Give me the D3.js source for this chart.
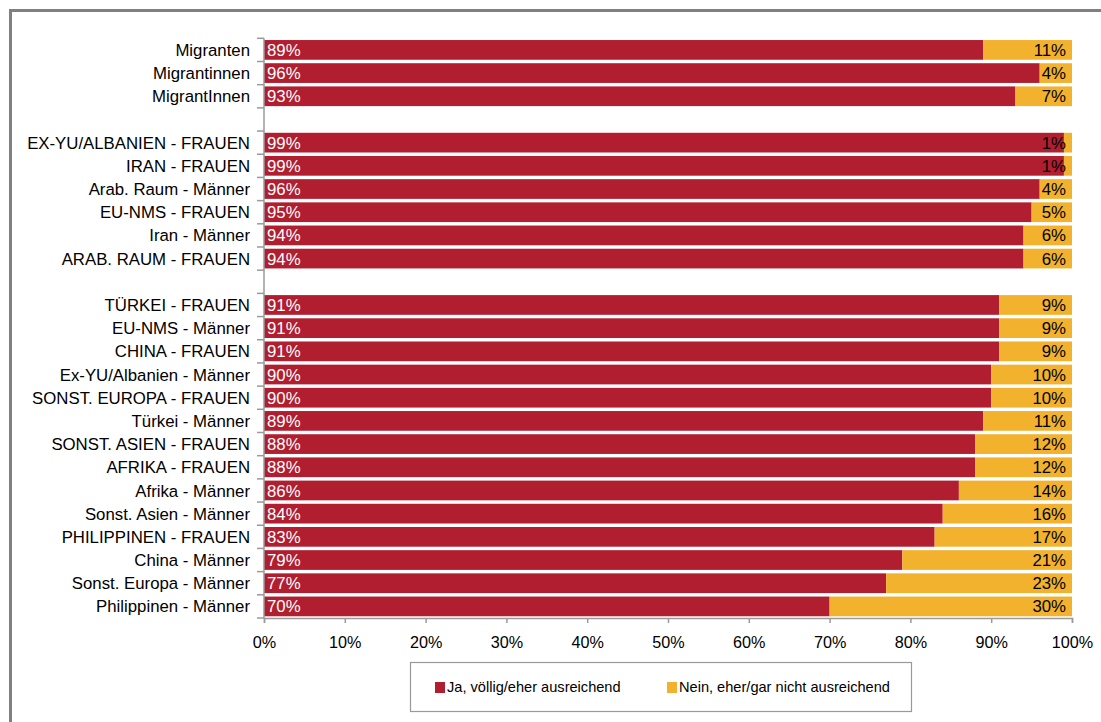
<!DOCTYPE html>
<html>
<head>
<meta charset="utf-8">
<script src="https://cdn.jsdelivr.net/npm/d3@7"></script>
<style>
  html, body { margin: 0; padding: 0; background: #fff; }
  svg { display: block; font-family: "Liberation Sans", Arial, sans-serif; }
</style>
</head>
<body>
<svg id="chart" width="1101" height="722"></svg>
<script>
// ---- data ----
const categories = [
  "Migranten", "Migrantinnen", "MigrantInnen", "",
  "EX-YU/ALBANIEN - FRAUEN", "IRAN - FRAUEN", "Arab. Raum - Männer", "EU-NMS - FRAUEN", "Iran - Männer", "ARAB. RAUM - FRAUEN", " ",
  "TÜRKEI - FRAUEN", "EU-NMS - Männer", "CHINA - FRAUEN", "Ex-YU/Albanien - Männer", "SONST. EUROPA - FRAUEN",
  "Türkei - Männer", "SONST. ASIEN - FRAUEN", "AFRIKA - FRAUEN", "Afrika - Männer", "Sonst. Asien - Männer",
  "PHILIPPINEN - FRAUEN", "China - Männer", "Sonst. Europa - Männer", "Philippinen - Männer"
];
const jaValues = [89, 96, 93, null, 99, 99, 96, 95, 94, 94, null, 91, 91, 91, 90, 90, 89, 88, 88, 86, 84, 83, 79, 77, 70];
const neinValues = [11, 4, 7, null, 1, 1, 4, 5, 6, 6, null, 9, 9, 9, 10, 10, 11, 12, 12, 14, 16, 17, 21, 23, 30];
const seriesNames = ["Ja, völlig/eher ausreichend", "Nein, eher/gar nicht ausreichend"];
const xTicks = [0, 10, 20, 30, 40, 50, 60, 70, 80, 90, 100];

(function () {
// ---- layout ----
const colors = ["#B01E2F", "#F2B22E"];
const svg = d3.select("#chart");
const pLeft = 264, pRight = 1072, pTop = 38.3, pBottom = 618;
const labelSize = 16.8, tickSize = 16.2, legendSize = 14.6;

// outer frame (left & top visible)
svg.append("rect").attr("x", 10.5).attr("y", 10.5).attr("width", 1200).attr("height", 800)
  .attr("fill", "none").attr("stroke", "#808080").attr("stroke-width", 3);

const keys = categories.map((c, i) => "k" + i);
const x = d3.scaleLinear().domain([0, 100]).range([pLeft, pRight]);
const y = d3.scaleBand().domain(keys).range([pTop, pBottom]).paddingInner(0.15).paddingOuter(0.075);

const rows = categories.map((c, i) => ({ key: keys[i], label: c, ja: jaValues[i], nein: neinValues[i] }))
  .filter(d => d.ja !== null);

// bars
svg.append("g").selectAll("rect").data(rows).join("rect")
  .attr("x", x(0)).attr("y", d => y(d.key))
  .attr("width", d => x(d.ja) - x(0)).attr("height", y.bandwidth())
  .attr("fill", colors[0]);
svg.append("g").selectAll("rect").data(rows).join("rect")
  .attr("x", d => x(d.ja)).attr("y", d => y(d.key))
  .attr("width", d => x(d.ja + d.nein) - x(d.ja)).attr("height", y.bandwidth())
  .attr("fill", colors[1]);

// value labels
svg.append("g").selectAll("text").data(rows).join("text")
  .attr("x", x(0) + 3).attr("y", d => y(d.key) + y.bandwidth() / 2)
  .attr("dy", "0.36em").attr("fill", "#fff").attr("font-size", labelSize)
  .text(d => d.ja + "%");
svg.append("g").selectAll("text").data(rows).join("text")
  .attr("x", x(100) - 6).attr("y", d => y(d.key) + y.bandwidth() / 2)
  .attr("dy", "0.36em").attr("text-anchor", "end").attr("fill", "#000").attr("font-size", labelSize)
  .text(d => d.nein + "%");

// y axis: line + boundary ticks
const axisColor = "#9a9a9a";
svg.append("line").attr("x1", pLeft).attr("x2", pLeft).attr("y1", pTop).attr("y2", pBottom)
  .attr("stroke", axisColor).attr("stroke-width", 1.5);
const bounds = keys.map(k => y(k) - y.step() * y.paddingInner() / 2).concat([pBottom]);
svg.append("g").selectAll("line").data(bounds).join("line")
  .attr("x1", pLeft - 7).attr("x2", pLeft).attr("y1", d => d).attr("y2", d => d)
  .attr("stroke", axisColor).attr("stroke-width", 1.5);

// category labels
svg.append("g").selectAll("text").data(rows).join("text")
  .attr("x", 250).attr("y", d => y(d.key) + y.bandwidth() / 2)
  .attr("dy", "0.36em").attr("text-anchor", "end").attr("fill", "#000").attr("font-size", labelSize)
  .text(d => d.label);

// x axis
const xAxis = d3.axisBottom(x).tickValues(xTicks).tickFormat(d => d + "%").tickSize(5).tickPadding(13);
const gx = svg.append("g").attr("transform", `translate(0,${pBottom})`).call(xAxis);
gx.select(".domain").attr("stroke", axisColor).attr("stroke-width", 1.5);
gx.selectAll(".tick line").attr("stroke", axisColor).attr("stroke-width", 1.5);
gx.selectAll(".tick text").attr("font-size", tickSize).attr("fill", "#000")
  .attr("font-family", "'Liberation Sans', Arial, sans-serif");

// legend
const lg = svg.append("g");
lg.append("rect").attr("x", 410.5).attr("y", 662.5).attr("width", 501).attr("height", 49)
  .attr("fill", "#fff").attr("stroke", "#999").attr("stroke-width", 1.2);
const legendX = [435, 667];
seriesNames.forEach((name, i) => {
  lg.append("rect").attr("x", legendX[i]).attr("y", 682).attr("width", 10).attr("height", 11).attr("fill", colors[i]);
  lg.append("text").attr("x", legendX[i] + 12).attr("y", 687).attr("dy", "0.36em")
    .attr("font-size", legendSize).attr("fill", "#000").text(name);
});
})();
</script>
</body>
</html>
